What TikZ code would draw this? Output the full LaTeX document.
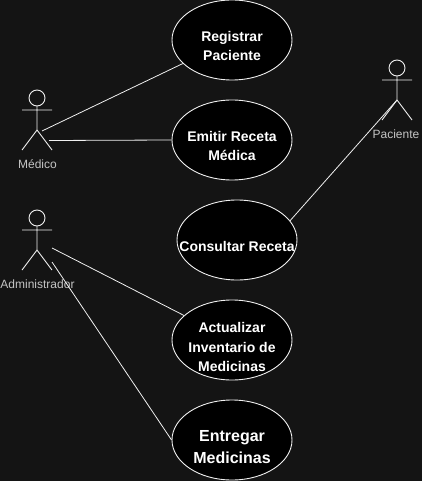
\documentclass[tikz,border=0pt]{standalone}
\usepackage{fontspec}
\setmainfont{Liberation Sans}
\usetikzlibrary{shapes.geometric}
\definecolor{bg}{HTML}{141414}
\definecolor{stroke}{HTML}{F0F0F0}
\definecolor{actorlabel}{HTML}{C4C4C4}
\tikzset{
  usecase/.style={ellipse,draw=stroke,fill=black,line width=0.9pt,inner sep=0pt,
    minimum width=120pt,minimum height=80pt},
  casetext/.style={text=white,align=center,inner sep=0pt,
    font=\fontsize{14}{19.5}\selectfont\bfseries},
  actorname/.style={text=actorlabel,inner sep=0pt,font=\fontsize{12}{14}\selectfont},
  actorline/.style={draw=stroke,line width=0.9pt},
  link/.style={draw=stroke,line width=0.8pt}
}
\begin{document}
\begin{tikzpicture}[x=1pt,y=-1pt]
  \useasboundingbox[fill=bg] (0,0) rectangle (422,481);

  % Use cases
  \node[usecase] (registrar) at (232,40) {};
  \node[casetext] (registrar-text) at (232,46) {Registrar\\Paciente};
  \node[usecase] (emitir) at (232,140) {};
  \node[casetext] (emitir-text) at (232,146) {Emitir Receta\\Médica};
  \node[usecase] (consultar) at (237,240) {};
  \node[casetext] (consultar-text) at (237,246) {Consultar Receta};
  \node[usecase] (actualizar) at (232,340) {};
  \node[casetext] (actualizar-text) at (232,347) {Actualizar\\Inventario de\\Medicinas};
  \node[usecase] (entregar) at (232,440) {};
  \node[casetext,font=\fontsize{16}{22}\selectfont\bfseries] (entregar-text) at (232,447) {Entregar\\Medicinas};

  % Medico
  \draw[actorline] (37,98) circle (8);
  \draw[actorline] (37,106) -- (37,130) (22,110) -- (52,110) (22,150) -- (37,130) -- (52,150);
  \node[actorname] (medico) at (37.5,164) {Médico};
  \coordinate (medico-a) at (42,131);
  \coordinate (medico-b) at (49,140.5);

  % Administrador
  \draw[actorline] (37,218) circle (8);
  \draw[actorline] (37,226) -- (37,250) (22,230) -- (52,230) (22,270) -- (37,250) -- (52,270);
  \node[actorname] (admin) at (37.5,284) {Administrador};
  \coordinate (admin-a) at (52,248);
  \coordinate (admin-b) at (52,262);

  % Paciente
  \draw[actorline] (397,68) circle (8);
  \draw[actorline] (397,76) -- (397,100) (382,80) -- (412,80) (382,120) -- (397,100) -- (412,120);
  \node[actorname] (paciente) at (396,134) {Paciente};
  \coordinate (paciente-a) at (397,100);

  % Links
  \draw[link] (medico-a) -- (registrar);
  \draw[link] (medico-b) -- (emitir.west);
  \draw[link] (admin-a) -- (actualizar);
  \draw[link] (admin-b) -- (entregar.west);
  \draw[link] (paciente-a) -- (consultar.20);
\end{tikzpicture}
\end{document}
